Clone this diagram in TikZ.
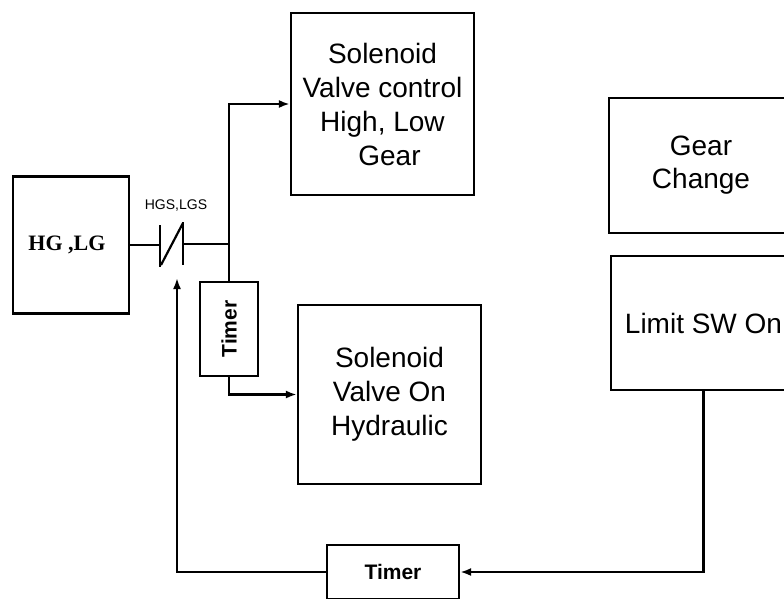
\documentclass[tikz,border=0pt]{standalone}
\usepackage{fontspec}
\setmainfont{Liberation Serif}
\setsansfont{Liberation Sans}
\usetikzlibrary{arrows.meta}
\begin{document}
\begin{tikzpicture}[x=1pt, y=-1pt, line width=2.2pt,
   blk/.style={draw, rectangle, inner sep=0pt, align=center,
      font=\sffamily\fontsize{28}{34}\selectfont},
   tmr/.style={draw, rectangle, inner sep=0pt,
      font=\sffamily\bfseries\fontsize{21}{24}\selectfont},
   feed/.style={-{Latex[length=11pt,width=8pt]}}]
\useasboundingbox (0,0) rectangle (784,598);
\clip (0,0) rectangle (784,598);
% blocks
\node[blk, minimum width=116pt, minimum height=137pt,
   font=\bfseries\fontsize{22}{26}\selectfont] (hglg) at (71,245) {\hspace*{-8pt}HG ,LG};
\node[blk, minimum width=183pt, minimum height=182pt] (svc) at (382.5,104)
   {Solenoid\\Valve control\\High, Low\\\hspace{14pt}Gear};
\node[blk, minimum width=183pt, minimum height=179pt] (svh) at (389.5,394.5)
   {Solenoid\\Valve On\\Hydraulic};
\node[blk, minimum width=184pt, minimum height=135pt,
   font=\sffamily\fontsize{28}{33}\selectfont] (gear) at (701,165.5) {Gear\\Change};
\node[blk, minimum width=185pt, minimum height=134pt] (lim) at (703.5,323) {Limit SW On};
\node[tmr, minimum width=58pt, minimum height=94pt] (tv) at (229,329)
   {\rotatebox{90}{Timer}};
\node[tmr, minimum width=132pt, minimum height=54pt] (tb) at (393,572) {Timer};
% switch HGS,LGS
\coordinate (swl) at (160,245);
\coordinate (swr) at (183,244);
\coordinate (jn) at (229,244);
\coordinate (swin) at (177,278);
\draw (160,225) -- (160,267);
\draw (183,222) -- (183,265);
\draw (161,265) -- (183,223);
\node[font=\sffamily\fontsize{14}{16}\selectfont] (hgs) at (176,206) {HGS,LGS};
% wires
\draw (hglg.east) -- (swl);
\draw (swr) -- (jn);
\draw[feed] (jn) |- (svc.west);
\draw (jn) -- (tv.north);
\draw[feed] (tv.south) |- (svh.west);
\draw[feed] (lim.south) |- (tb.east);
\draw[feed] (tb.west) -| (swin);
\end{tikzpicture}
\end{document}
